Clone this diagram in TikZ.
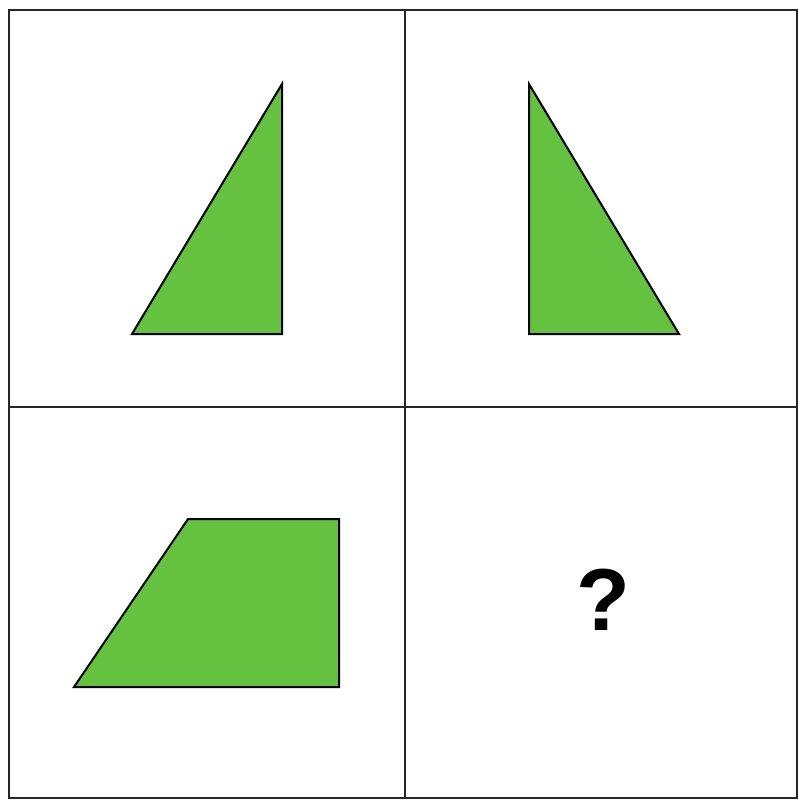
\documentclass[tikz,border=0pt]{standalone}
\usepackage{fontspec}
\setmainfont{Liberation Sans}
\usepackage{tikz}
\usetikzlibrary{positioning}

\definecolor{shapegreen}{RGB}{100,194,62}
\tikzset{
  gridline/.style={line width=1.8pt,black!85},
  figure/.style={fill=shapegreen,draw=black,line width=2pt,line join=miter}
}

\begin{document}
\begin{tikzpicture}[x=1pt,y=-1pt]
  \useasboundingbox (0,0) rectangle (799,801);
  \fill[white] (0,0) rectangle (799,801);
  % grid of four cells
  \draw[gridline] (9,10) rectangle (797,798);
  \draw[gridline] (405,10) -- (405,798);
  \draw[gridline] (9,407) -- (797,407);
  \draw[figure] (282,84) -- (282,334) -- (132,334) -- cycle;
  \draw[figure] (529,84) -- (529,334) -- (679,334) -- cycle;
  \draw[figure] (74,687) -- (188,519) -- (339,519) -- (339,687) -- cycle;
  \node[font=\fontsize{88}{88}\selectfont\bfseries] (quest) at (603,600) {?};
\end{tikzpicture}
\end{document}
